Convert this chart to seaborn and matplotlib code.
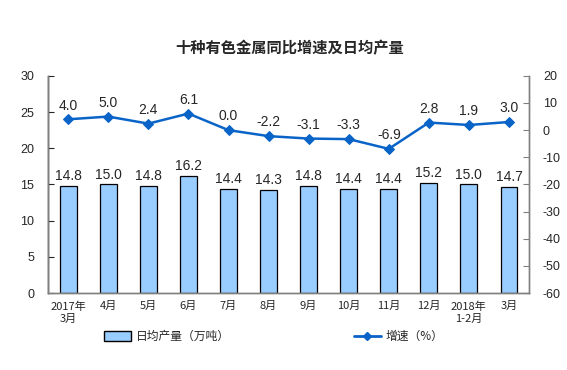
import numpy as np
import pandas as pd
import matplotlib
matplotlib.use("Agg")
import matplotlib.pyplot as plt
import seaborn as sns
from matplotlib.ticker import MultipleLocator, FixedLocator

# 数据
months = ["2017年\n3月", "4月", "5月", "6月", "7月", "8月", "9月", "10月", "11月", "12月", "2018年\n1-2月", "3月"]
output = [14.8, 15.0, 14.8, 16.2, 14.4, 14.3, 14.8, 14.4, 14.4, 15.2, 15.0, 14.7]
growth = [4.0, 5.0, 2.4, 6.1, 0.0, -2.2, -3.1, -3.3, -6.9, 2.8, 1.9, 3.0]

sns.set_style("white")
plt.rcParams['font.family'] = ['Noto Sans CJK SC', 'DejaVu Sans']
plt.rcParams['axes.unicode_minus'] = False

df = pd.DataFrame({"month": months, "idx": range(len(months)), "output": output, "growth": growth})

fig = plt.figure(figsize=(5.67, 3.70), dpi=100)
ax = fig.add_axes([0.085, 0.208, 0.848, 0.587])

sns.barplot(data=df, x="month", y="output", ax=ax, color="#99CCFF", width=0.42,
            edgecolor="black", linewidth=0.9, saturation=1)
ax.set_ylim(0, 30)
ax.yaxis.set_major_locator(MultipleLocator(5))
ax.set_xlim(-0.5, len(months) - 0.5)
ax.set_xlabel("")
ax.set_ylabel("")
for i, v in enumerate(output):
    ax.text(i, v + 0.4, f"{v:.1f}", ha="center", va="bottom", fontsize=10, family="Liberation Sans")

ax2 = ax.twinx()
sns.lineplot(data=df, x="idx", y="growth", ax=ax2, color="#0A64C8", linewidth=1.8,
             marker="D", markersize=5, markeredgecolor="#0A64C8")
ax2.set_ylim(-60, 20)
ax2.yaxis.set_major_locator(MultipleLocator(10))
ax2.set_ylabel("")
ax2.set_xlim(-0.5, len(months) - 0.5)
for i, v in enumerate(growth):
    ax2.text(i, v + 2.5, f"{v:.1f}", ha="center", va="bottom", fontsize=10, family="Liberation Sans")

# 坐标轴样式
for a in (ax, ax2):
    for s in a.spines.values():
        s.set_color("#808080")
        s.set_linewidth(1)
ax.spines["left"].set_color("black")
ax.spines["top"].set_visible(False)
ax2.spines["top"].set_visible(False)
ax.tick_params(axis="y", direction="in", length=4, labelsize=9, pad=10)
ax2.tick_params(axis="y", direction="in", length=4, labelsize=9, pad=10, color="#808080")
for lab in ax.get_yticklabels() + ax2.get_yticklabels():
    lab.set_family("Liberation Sans")
ax.set_xticks(range(len(months)))
ax.set_xticklabels(months, fontsize=8, linespacing=1.3)
ax.tick_params(axis="x", which="major", length=0, pad=6)
ax.xaxis.set_minor_locator(FixedLocator(np.arange(0.5, len(months) - 0.5, 1)))
ax.tick_params(axis="x", which="minor", direction="in", length=4, color="#808080")
ax2.tick_params(axis="x", length=0)

fig.text(0.51, 0.87, "十种有色金属同比增速及日均产量", ha="center", va="center", fontsize=11, weight="bold")

handles = [plt.Rectangle((0, 0), 1, 1, facecolor="#99CCFF", edgecolor="black"),
           plt.Line2D([], [], color="#0A64C8", linewidth=2, marker="D", markersize=4)]
fig.legend(handles, ["日均产量（万吨）", "增速（%）"], loc="center", bbox_to_anchor=(0.483, 0.09),
           ncol=2, frameon=False, fontsize=8.5, columnspacing=10.5, handlelength=2.3, handleheight=0.9,
           handletextpad=0.4)

fig.savefig("out.png", dpi=100)
